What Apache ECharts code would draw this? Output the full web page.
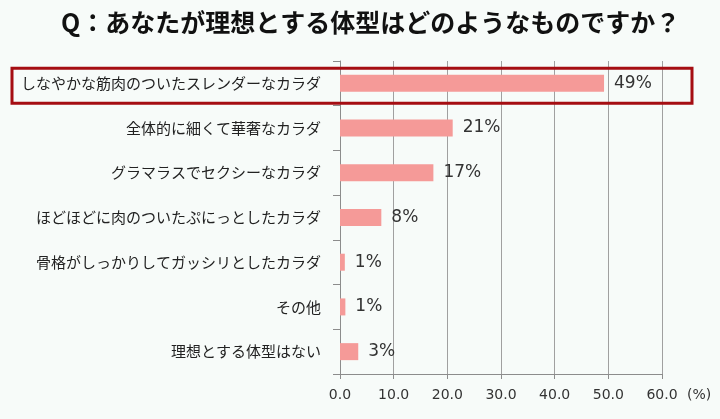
<!DOCTYPE html>
<html><head><meta charset="utf-8">
<script src="https://cdn.jsdelivr.net/npm/echarts@6/dist/echarts.min.js"></script>
<style>html,body{margin:0;padding:0;background:#f7fbf9}#c{width:720px;height:419px}</style>
</head><body><div id="c"></div>
<script>
const categories = ['しなやかな筋肉のついたスレンダーなカラダ','全体的に細くて華奢なカラダ','グラマラスでセクシーなカラダ','ほどほどに肉のついたぷにっとしたカラダ','骨格がしっかりしてガッシリとしたカラダ','その他','理想とする体型はない'];
const values = [49.2, 21.0, 17.4, 7.7, 0.9, 1.0, 3.4];
const valueLabels = ['49%','21%','17%','8%','1%','1%','3%'];
const xTicks = [0, 10, 20, 30, 40, 50, 60];
const titleText = 'Q：あなたが理想とする体型はどのようなものですか？';

const chart = echarts.init(document.getElementById('c'));
chart.setOption({
  backgroundColor: '#f7fbf9',
  animation: false,
  title: {text: titleText, left: 56, top: 5,
    textStyle: {fontFamily: 'Noto Sans CJK JP', fontSize: 25, fontWeight: 'bold', color: '#111'}},
  grid: {left: 340, right: 58, top: 61, bottom: 45, containLabel: false, outerBoundsMode: 'none'},
  xAxis: {type: 'value', min: xTicks[0], max: xTicks[xTicks.length-1], interval: 10,
    name: '(%)', nameLocation: 'end', nameGap: 25,
    nameTextStyle: {fontFamily: 'DejaVu Sans', fontSize: 14, color: '#333', verticalAlign: 'top', padding: [14,0,0,0]},
    axisLine: {show: true, lineStyle: {color: '#8c8c8c'}},
    axisTick: {show: true, length: 5, lineStyle: {color: '#8c8c8c'}},
    axisLabel: {fontFamily: 'DejaVu Sans', fontSize: 14, color: '#333', margin: 14, formatter: v => v.toFixed(1)},
    splitLine: {show: true, lineStyle: {color: '#a0a0a0', width: 1}}},
  yAxis: {type: 'category', data: categories, inverse: true,
    axisLine: {show: true, lineStyle: {color: '#8c8c8c'}},
    axisTick: {show: true, length: 7, lineStyle: {color: '#8c8c8c'}},
    axisLabel: {fontFamily: 'Noto Sans CJK JP', fontSize: 15, color: '#222', margin: 19}},
  series: [{type: 'bar', data: values, barWidth: 17,
    itemStyle: {color: '#f59a98'},
    label: {show: true, position: 'right', distance: 10,
      fontFamily: 'DejaVu Sans', fontSize: 17, color: '#333',
      formatter: p => valueLabels[p.dataIndex]}}]
});
const cy = chart.convertToPixel({yAxisIndex: 0}, categories[0]);
chart.setOption({graphic: [{type: 'rect', shape: {x: 12, y: cy - 15, width: 680, height: 35},
  style: {fill: 'none', stroke: '#a50d12', lineWidth: 3}, z: 100}]});
</script></body></html>
